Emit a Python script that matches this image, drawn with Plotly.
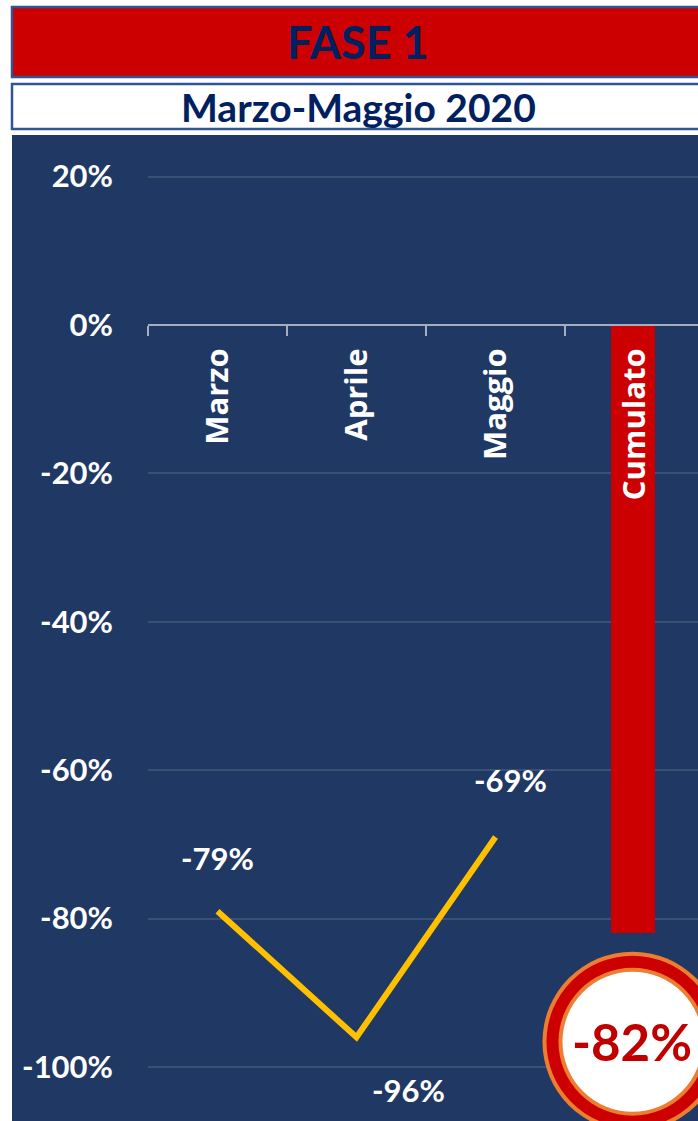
import plotly.graph_objects as go

# ---- data ----
months = ["Marzo", "Aprile", "Maggio"]
monthly = [-79, -96, -69]
cum_label = "Cumulato"
cumulative = -82
yticks = [20, 0, -20, -40, -60, -80, -100]
title = "FASE 1"
subtitle = "Marzo-Maggio 2020"

# ---- style ----
W, H = 698, 1121
NAVY = "#203864"
RED = "#cc0000"
ORANGE = "#ed7d31"
YELLOW = "#ffc000"
TITLE_BLUE = "#002060"
BORDER = "#2f5597"
AXIS_GRAY = "#a5aec0"
GRID = "#3b5075"

categories = months + [cum_label]

def py(p):
    return 1 - p / H

def px(p):
    return p / W

fig = go.Figure()
fig.add_trace(go.Bar(
    x=[cum_label], y=[cumulative], width=0.317, offset=-0.17,
    marker=dict(color=RED, line=dict(width=0)),
    hoverinfo="skip", showlegend=False,
))
fig.add_trace(go.Scatter(
    x=months, y=monthly, mode="lines",
    line=dict(color=YELLOW, width=6),
    hoverinfo="skip", showlegend=False,
))

annotations = []
# data labels
offsets = [(0, 53), (52, -53), (15, 57)]
for m, v, (dx, dy) in zip(months, monthly, offsets):
    annotations.append(dict(
        x=m, y=v, xref="x", yref="y", text=f"{v}%", showarrow=False,
        xshift=dx, yshift=dy, xanchor="center", yanchor="middle",
        font=dict(family="Lato", size=31, color="white", weight="bold"),
    ))
# circle label
annotations.append(dict(
    x=cum_label, y=-96.6, xref="x", yref="y", text=f"{cumulative}%",
    showarrow=False, xanchor="center", yanchor="middle", xshift=-2,
    font=dict(family="Lato", size=51, color="#c00000", weight="bold"),
))
# titles
annotations.append(dict(
    x=px(358), y=py(42), xref="paper", yref="paper", text=title,
    showarrow=False, xanchor="center", yanchor="middle",
    font=dict(family="Lato", size=45, color=TITLE_BLUE, weight="bold"),
))
annotations.append(dict(
    x=px(358), y=py(107), xref="paper", yref="paper", text=subtitle,
    showarrow=False, xanchor="center", yanchor="middle",
    font=dict(family="Lato", size=39, color=TITLE_BLUE, weight="bold"),
))

shapes = [
    # navy panel
    dict(type="rect", xref="paper", yref="paper", x0=px(12), x1=1.01,
         y0=-0.01, y1=py(135), fillcolor=NAVY, line=dict(width=0), layer="below"),
    # header red box
    dict(type="rect", xref="paper", yref="paper", x0=px(12), x1=px(705),
         y0=py(77), y1=py(7), fillcolor=RED, line=dict(color=BORDER, width=2.5),
         layer="below"),
    # subtitle white box
    dict(type="rect", xref="paper", yref="paper", x0=px(12), x1=px(705),
         y0=py(129), y1=py(84), fillcolor="white", line=dict(color=BORDER, width=2.5),
         layer="below"),
]
# circle rings
for r, col in [(90, ORANGE), (86, RED), (74, ORANGE), (70, "white")]:
    shapes.append(dict(
        type="circle", xref="x", yref="y", xsizemode="pixel", ysizemode="pixel",
        xanchor=3, yanchor=-96.6, x0=-r - 2, x1=r - 2, y0=-r, y1=r,
        fillcolor=col, line=dict(width=0), layer="above",
    ))

fig.update_layout(
    width=W, height=H,
    template="none",
    margin=dict(l=0, r=0, t=0, b=0, pad=0),
    paper_bgcolor="white",
    plot_bgcolor=NAVY,
    showlegend=False,
    annotations=annotations,
    shapes=shapes,
    xaxis=dict(
        type="category", categoryorder="array", categoryarray=categories,
        domain=[px(148), 1], range=[-0.5, 3.457],
        anchor="free", position=py(325),
        showline=True, linecolor=AXIS_GRAY, linewidth=2,
        ticks="outside", tickson="boundaries", ticklen=10, tickwidth=2,
        tickcolor=AXIS_GRAY, tickangle=-90,
        tickfont=dict(family="Open Sans", size=31, color="white", weight="bold"),
        ticklabelstandoff=10,
        showgrid=False, zeroline=False, automargin=False, fixedrange=True,
    ),
    yaxis=dict(
        domain=[0, py(135)], range=[-107.28, 25.6],
        tickvals=yticks, ticktext=[f"{v}%" for v in yticks],
        tickfont=dict(family="Lato", size=31, color="white", weight="bold"),
        showgrid=True, gridcolor=GRID, gridwidth=1.5,
        zeroline=False, showline=False, ticks="",
        ticklabelstandoff=34, automargin=False, fixedrange=True,
    ),
    bargap=0,
)

fig.write_html("out.html")
